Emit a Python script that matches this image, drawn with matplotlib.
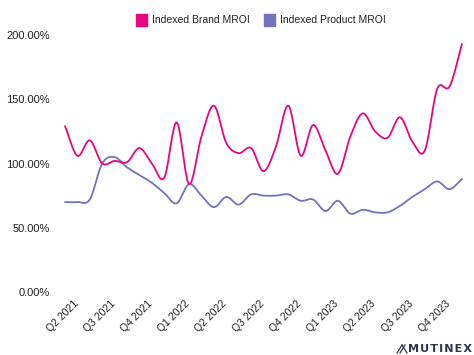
import numpy as np
import matplotlib
matplotlib.use("Agg")
import matplotlib.pyplot as plt
import matplotlib.transforms as mtrans
from matplotlib.patches import Patch
from matplotlib.lines import Line2D

# ---- data (monthly, Apr 2021 .. Dec 2023), values in % ----
brand_mroi = [129, 106, 118, 100, 102, 101, 112, 100, 89, 132, 84, 121,
              145, 116, 108, 112, 94, 113, 145, 106, 130, 110, 92, 121,
              139, 125, 120, 136, 117, 110, 158, 160, 193]
product_mroi = [70, 70, 72, 100, 105, 97, 91, 85, 77, 69, 84, 75,
                66, 74, 68, 76, 75, 75, 76, 71, 72, 63, 71, 61,
                64, 62, 62, 67, 74, 80, 86, 80, 88]
tick_labels = ["Q2 2021", "Q3 2021", "Q4 2021", "Q1 2022", "Q2 2022", "Q3 2022",
               "Q4 2022", "Q1 2023", "Q2 2023", "Q3 2023", "Q4 2023"]
y_ticks = [0, 50, 100, 150, 200]
series_names = ["Indexed Brand MROI", "Indexed Product MROI"]

PINK = "#E6077F"
PURPLE = "#7373BA"
TXT = "#222222"
plt.rcParams["font.family"] = ["Liberation Sans", "DejaVu Sans"]


def smooth(y, n=20):
    """Catmull-Rom spline through the points (for curve rendering)."""
    y = np.asarray(y, float)
    x = np.arange(len(y), dtype=float)
    xs, ys = [], []
    yp = np.concatenate([[2 * y[0] - y[1]], y, [2 * y[-1] - y[-2]]])
    for i in range(len(y) - 1):
        p0, p1, p2, p3 = yp[i], yp[i + 1], yp[i + 2], yp[i + 3]
        t = np.linspace(0, 1, n, endpoint=False)
        seg = 0.5 * ((2 * p1) + (-p0 + p2) * t + (2 * p0 - 5 * p1 + 4 * p2 - p3) * t ** 2
                     + (-p0 + 3 * p1 - 3 * p2 + p3) * t ** 3)
        xs.append(x[i] + t)
        ys.append(seg)
    xs.append([x[-1]])
    ys.append([y[-1]])
    return np.concatenate(xs), np.concatenate(ys)


fig = plt.figure(figsize=(4.74, 3.55), dpi=100)
ax = fig.add_axes([65 / 474, 1 - 292 / 355, (462 - 65) / 474, (292 - 35) / 355])

bx, by = smooth(brand_mroi)
px, py = smooth(product_mroi)
ax.plot(px, py, color=PURPLE, lw=1.3, solid_capstyle="round", clip_on=False)
ax.plot(bx, by, color=PINK, lw=1.3, solid_capstyle="round", clip_on=False)

ax.set_xlim(0, len(brand_mroi) - 1)
ax.set_ylim(0, 200)
ax.set_yticks(y_ticks)
ax.set_yticklabels([f"{v:.2f}%" for v in y_ticks])
ax.set_xticks(np.arange(len(tick_labels)) * 3)
ax.set_xticklabels(tick_labels, rotation=45, ha="right", va="top", rotation_mode="anchor")
ax.tick_params(axis="x", length=0, labelsize=7.5, colors=TXT, pad=5)
ax.tick_params(axis="y", length=0, labelsize=8, colors=TXT, pad=10.8)
offset = mtrans.ScaledTranslation(8 / 100, 0, fig.dpi_scale_trans)
for lab in ax.get_xticklabels():
    lab.set_transform(lab.get_transform() + offset)
for s in ax.spines.values():
    s.set_visible(False)

handles = [Patch(facecolor=PINK, edgecolor=PINK), Patch(facecolor=PURPLE, edgecolor=PURPLE)]
fig.legend(handles, series_names, loc="center", bbox_to_anchor=(261 / 474, 1 - 20 / 355),
           ncol=2, frameon=False, fontsize=7.5, handlelength=1.1, handleheight=1.4,
           handletextpad=0.5, columnspacing=1.3, labelcolor=TXT)

# logo
LOGO = "#2c3550"
fig.text(472 / 474, 1 - 349.5 / 355, "\u200a".join("MUTINEX"), ha="right", va="center",
         fontsize=8, color=LOGO, fontweight="bold", family="DejaVu Sans Condensed")
for dx in (0, 3):
    fig.add_artist(Line2D([(397 + dx) / 474, (402 + dx) / 474],
                          [1 - 353 / 355, 1 - 345 / 355], color=LOGO, lw=0.9))
fig.add_artist(Line2D([402 / 474, 407 / 474], [1 - 345 / 355, 1 - 353 / 355],
                      color=LOGO, lw=0.9))

fig.savefig("out.png", dpi=100, facecolor="white")
